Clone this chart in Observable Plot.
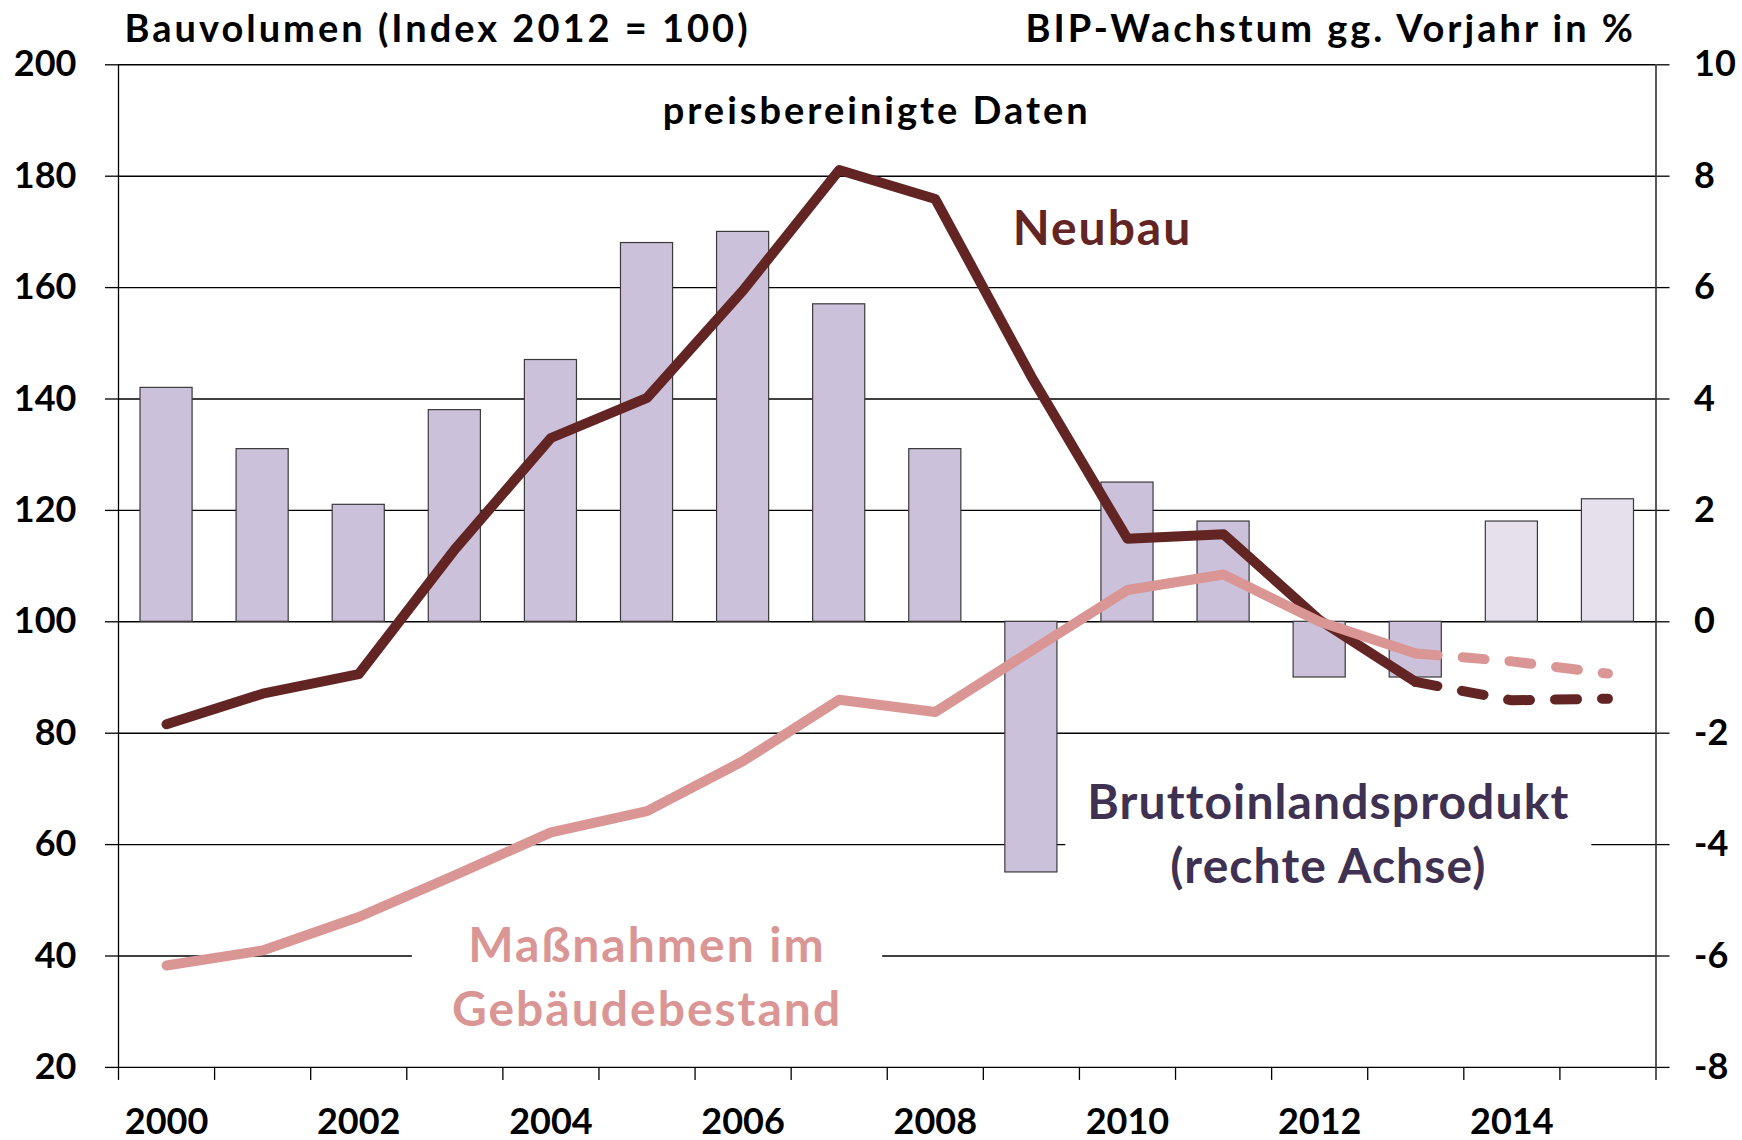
<!DOCTYPE html>
<html>
<head>
<meta charset="utf-8">
<script src="https://cdn.jsdelivr.net/npm/d3@7"></script>
<script src="https://cdn.jsdelivr.net/npm/@observablehq/plot@0.6"></script>
<style>
html, body { margin: 0; padding: 0; background: #fff; }
#chart svg { display: block; font-family: Lato, "Open Sans", sans-serif; }
</style>
</head>
<body>
<div id="chart"></div>
<script>
// ---- data ----
const years = [2000, 2001, 2002, 2003, 2004, 2005, 2006, 2007, 2008, 2009, 2010, 2011, 2012, 2013, 2014, 2015];
// BIP-Wachstum gg. Vorjahr in % (rechte Achse)
const gdpGrowth = [4.2, 3.1, 2.1, 3.8, 4.7, 6.8, 7.0, 5.7, 3.1, -4.5, 2.5, 1.8, -1.0, -1.0, 1.8, 2.2];
// Bauvolumen Neubau (Index 2012 = 100)
const neubau = [81.6, 87.1, 90.6, 113.0, 133.0, 140.2, 159.5, 181.1, 175.9, 144.0, 114.9, 115.7, 100.3, 89.2, 85.9, 86.2];
// Bauvolumen Maßnahmen im Gebäudebestand (Index 2012 = 100)
const massnahmen = [38.3, 41.0, 47.0, 54.5, 62.2, 66.0, 75.0, 86.0, 83.8, 94.8, 105.7, 108.5, 100.0, 94.3, 92.9, 90.7];
const lastActualYear = 2013;

const leftTicks = [20, 40, 60, 80, 100, 120, 140, 160, 180, 200];
const xLabelYears = [2000, 2002, 2004, 2006, 2008, 2010, 2012, 2014];

const titleLeft = "Bauvolumen (Index 2012 = 100)";
const titleRight = "BIP-Wachstum gg. Vorjahr in %";

const labelText = ["preisbereinigte Daten", "Neubau", "Maßnahmen im\nGebäudebestand", "Bruttoinlandsprodukt\n(rechte Achse)"];
const labelYear = [2007.39, 2009.74, 2005.0, 2012.09];
const labelValue = [192.2, 171.4, 36.9, 62.6];

// ---- styles ----
const colNeubau = "#632523";
const colMass = "#DA9694";
const colBar = "#CCC1DA";
const colBarForecast = "#E5E0EC";
const colBIPText = "#3F3151";
const labelColor = ["#000000", colNeubau, colMass, colBIPText];
const labelSize = [38, 48, 48, 48];
const labelSpacing = [3, 2, 2, 1.1];
const labelPad = [0, 0, 40, 22];
const titleSize = 38;
const titleSpacing = 3;

// ---- derived table ----
const rows = years.map((year, i) => ({
  year,
  gdp: gdpGrowth[i],
  neubau: neubau[i],
  massnahmen: massnahmen[i],
  forecast: year > lastActualYear
}));
const gdpToLeft = g => 100 + 10 * g;
const leftToGdp = v => (v - 100) / 10;
const bandEdges = years.map(y => y - 0.5).concat([years[years.length - 1] + 0.5]);
const labels = labelText.map((t, i) => ({ text: t, year: labelYear[i], value: labelValue[i], color: labelColor[i], size: labelSize[i], spacing: labelSpacing[i], pad: labelPad[i] }));

const actual = rows.filter(d => d.year <= lastActualYear);
const forecast = rows.filter(d => d.year >= lastActualYear);

const font = "Lato, 'Open Sans', sans-serif";

const plot = Plot.plot({
  width: 1742,
  height: 1140,
  marginLeft: 118,
  marginRight: 86.5,
  marginTop: 64.3,
  marginBottom: 73.1,
  style: { fontFamily: font, background: "#fff", overflow: "visible" },
  x: { type: "linear", domain: [bandEdges[0], bandEdges[bandEdges.length - 1]] },
  y: { domain: [20, 200] },
  marks: [
    // gridlines
    Plot.ruleY(leftTicks, { stroke: "#000", strokeWidth: 1.4 }),
    // GDP bars
    Plot.rectY(rows, {
      x1: d => d.year - 0.5,
      x2: d => d.year + 0.5,
      y1: 100,
      y2: d => gdpToLeft(d.gdp),
      insetLeft: 22,
      insetRight: 22,
      fill: d => d.forecast ? colBarForecast : colBar,
      stroke: "#3a3a3a",
      strokeWidth: 1.2
    }),
    // axis lines (left/right)
    Plot.ruleX([bandEdges[0], bandEdges[bandEdges.length - 1]], { stroke: "#000", strokeWidth: 1.3 }),
    // Neubau
    Plot.line(actual, { x: "year", y: "neubau", stroke: colNeubau, strokeWidth: 10, strokeLinecap: "round", strokeLinejoin: "round" }),
    Plot.line(forecast, { x: "year", y: "neubau", stroke: colNeubau, strokeWidth: 10, strokeLinecap: "round", strokeLinejoin: "round", strokeDasharray: "22,25" }),
    // Maßnahmen
    Plot.line(actual, { x: "year", y: "massnahmen", stroke: colMass, strokeWidth: 10, strokeLinecap: "round", strokeLinejoin: "round" }),
    Plot.line(forecast, { x: "year", y: "massnahmen", stroke: colMass, strokeWidth: 10, strokeLinecap: "round", strokeLinejoin: "round", strokeDasharray: "22,25" }),
    // axes
    Plot.axisY(leftTicks, { anchor: "left", tickSize: 13, tickPadding: 29, fontSize: 36, fontWeight: "bold", tickFormat: d => String(d), label: null, strokeWidth: 1.3 }),
    Plot.axisY(leftTicks, { anchor: "right", tickSize: 13, tickPadding: 25, fontSize: 36, fontWeight: "bold", tickFormat: d => String(leftToGdp(d)), label: null, strokeWidth: 1.3 }),
    Plot.axisX(bandEdges, { anchor: "bottom", tickSize: 13, tickFormat: () => "", label: null, strokeWidth: 1.3 }),
    Plot.axisX(xLabelYears, { anchor: "bottom", tickSize: 0, tickPadding: 41, fontSize: 36, fontWeight: "bold", tickFormat: d => String(d), label: null }),
    // annotations
    Plot.text(labels, {
      x: "year", y: "value", text: "text",
      fill: "color", fontSize: "size",
      fontWeight: "bold", lineHeight: 1.333,
      textAnchor: "middle", lineAnchor: "middle"
    }),
    // titles
    Plot.text([titleLeft], { text: d => d, frameAnchor: "top-left", textAnchor: "start", lineAnchor: "middle", dx: 6, dy: -34.5, fontSize: titleSize, fontWeight: "bold", fill: "#000" }),
    Plot.text([titleRight], { text: d => d, frameAnchor: "top-right", textAnchor: "end", lineAnchor: "middle", dx: -20, dy: -34.5, fontSize: titleSize, fontWeight: "bold", fill: "#000" })
  ]
});

document.getElementById("chart").appendChild(plot);

// text tweaks: letter spacing, then white boxes behind annotation labels (interrupting gridlines)
const texts = Array.from(plot.querySelectorAll('g[aria-label="text"] text'));
const squash = s => s.replace(/\s/g, "");
const findText = s => texts.find(t => squash(t.textContent) === squash(s));
[titleLeft, titleRight].forEach(s => { const el = findText(s); if (el) el.setAttribute("letter-spacing", titleSpacing); });
labels.forEach(l => { const el = findText(l.text); if (el) el.setAttribute("letter-spacing", l.spacing); });

const gridGroup = plot.querySelector('g[aria-label="rule"]');
const svgCtm = plot.getCTM();
labels.forEach(l => {
  if (!l.pad) return;
  const el = findText(l.text);
  if (!el) return;
  const bb = el.getBBox();
  const ctm = el.getCTM();
  let ox = 0, oy = 0;
  if (ctm && svgCtm) { ox = ctm.e - svgCtm.e; oy = ctm.f - svgCtm.f; }
  const rect = document.createElementNS("http://www.w3.org/2000/svg", "rect");
  rect.setAttribute("x", bb.x + ox - l.pad);
  rect.setAttribute("y", bb.y + oy - 4);
  rect.setAttribute("width", bb.width + 2 * l.pad);
  rect.setAttribute("height", bb.height + 8);
  rect.setAttribute("fill", "#fff");
  gridGroup.after(rect);
});
</script>
</body>
</html>
